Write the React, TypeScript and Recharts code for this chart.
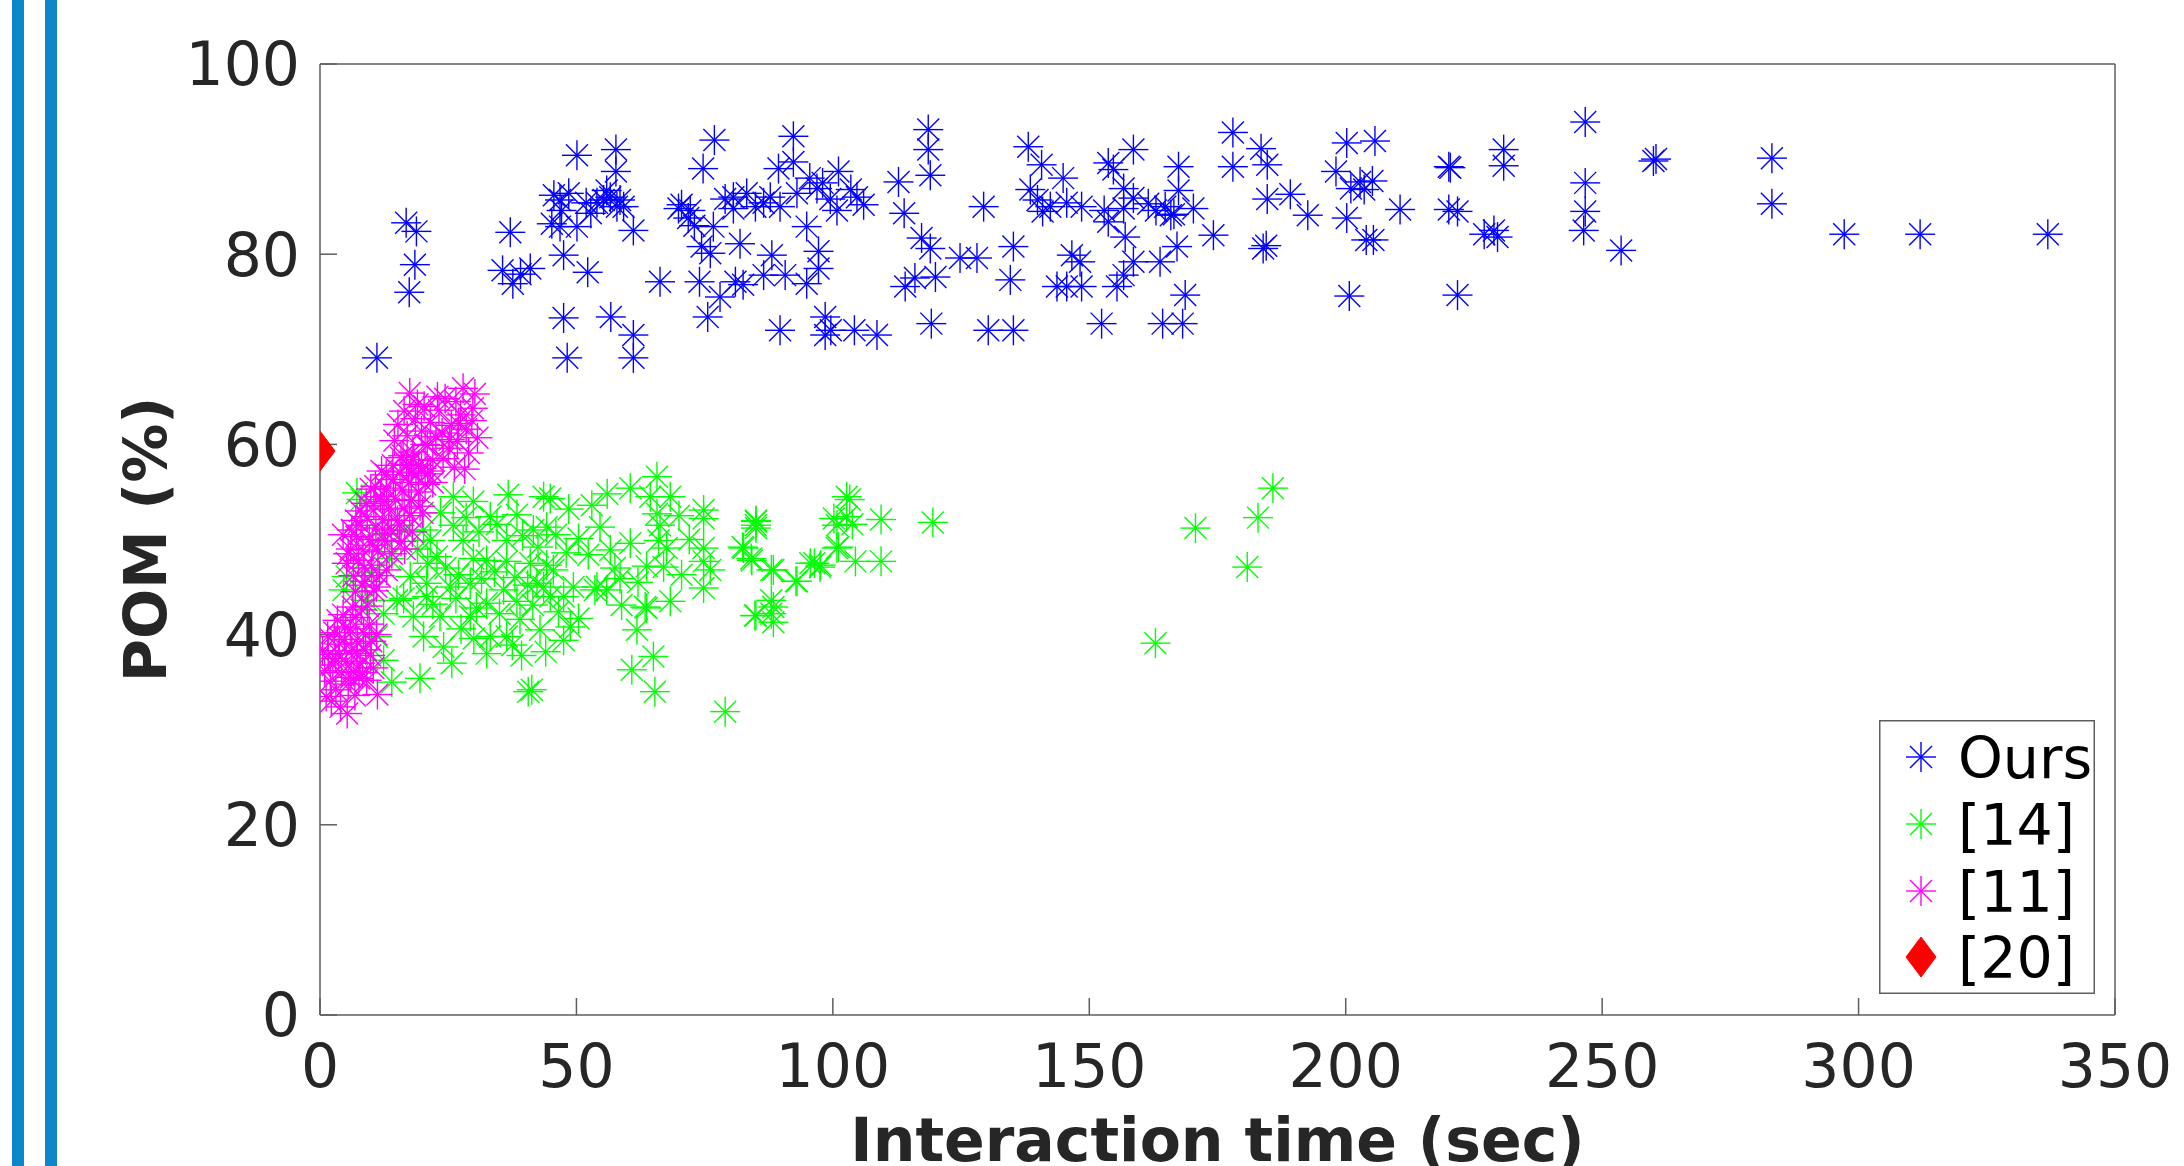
import React from 'react';
import { ScatterChart, Scatter, XAxis, YAxis, Legend, Label } from 'recharts';

type Pt = [number, number];

const xTicks = [0, 50, 100, 150, 200, 250, 300, 350];
const yTicks = [0, 20, 40, 60, 80, 100];
const seriesNames = ['Ours', '[14]', '[11]', '[20]'];
const seriesColors = ['#0000ff', '#00ff00', '#ff00ff', '#ff0000'];

// Ours: interaction time (sec), POM (%)
const oursPoints: Pt[] = [
  [11.1, 69.1], [16.8, 83.3], [18.8, 82.4], [18.5, 78.9], [17.4, 76.0], [37.1, 82.3], [35.6, 78.3], [37.6, 76.9],
  [39.1, 77.9], [41.0, 78.5], [50.1, 90.4], [57.7, 91.0], [57.7, 88.7], [46.8, 85.7], [47.1, 84.6], [45.2, 83.2],
  [46.8, 82.9], [50.1, 82.9], [47.5, 79.9], [52.2, 78.1], [47.5, 73.3], [48.2, 69.1], [56.7, 73.4], [61.1, 71.5],
  [61.1, 69.1], [54.0, 85.4], [56.6, 86.0], [57.9, 85.0], [59.2, 85.0], [61.1, 82.5], [55.3, 85.7], [66.3, 77.1],
  [76.9, 92.0], [74.7, 89.0], [72.2, 84.6], [71.8, 83.8], [69.9, 84.8], [76.7, 82.9], [74.4, 80.8], [76.1, 80.1],
  [74.0, 77.1], [78.0, 75.5], [75.6, 73.4], [81.9, 81.1], [80.6, 86.0], [83.2, 86.4], [80.6, 84.8], [86.5, 85.4],
  [89.7, 85.0], [87.8, 86.0], [89.4, 89.0], [92.3, 92.4], [92.3, 89.7], [94.9, 82.9], [97.2, 80.3], [97.2, 78.5],
  [94.9, 76.9], [88.1, 79.9], [86.5, 77.8], [90.7, 77.8], [81.0, 77.1], [82.5, 76.8], [89.7, 72.0], [98.5, 73.4],
  [98.5, 71.5], [99.6, 72.0], [96.9, 86.9], [101.1, 88.7], [100.8, 84.6], [95.5, 88.0],
  [48.5, 86.4], [51.9, 85.4], [55.9, 86.7], [58.5, 85.7], [52.8, 84.3], [45.6, 86.2], [70.5, 85.2], [73.0, 83.0],
  [98.0, 87.5], [99.5, 85.8], [93.0, 86.4], [84.9, 85.0], [79.0, 85.8],
  [104.7, 86.0], [112.8, 87.6], [118.6, 93.1], [118.6, 91.0], [119.0, 88.3], [113.9, 84.3], [117.3, 81.7], [119.0, 80.6],
  [120.0, 77.6], [116.0, 77.5], [114.1, 76.6], [124.8, 79.6], [128.1, 79.6], [129.4, 85.0], [135.2, 80.8], [134.6, 77.3],
  [108.6, 71.5], [104.2, 72.0], [119.2, 72.7], [130.3, 72.0], [135.2, 72.0], [138.1, 91.3], [140.7, 89.4], [144.9, 88.0],
  [138.5, 86.8], [139.9, 85.7], [140.9, 84.5], [145.6, 85.4], [148.5, 85.0], [146.6, 79.9], [148.2, 79.2], [143.7, 76.6],
  [145.6, 76.6], [148.5, 76.6], [152.4, 72.7], [153.7, 89.6], [154.7, 88.9], [158.6, 91.0], [156.7, 86.9], [158.6, 85.9],
  [156.7, 84.8], [153.7, 83.4], [157.0, 81.8], [155.4, 76.6], [156.7, 77.8], [158.6, 79.2], [163.8, 79.2], [167.1, 80.8],
  [164.8, 85.0], [167.4, 89.2], [167.4, 86.7], [170.3, 84.8], [165.9, 84.1], [168.7, 75.7], [164.3, 72.7], [168.2, 72.7],
  [174.2, 82.0], [178.0, 92.8], [178.0, 89.2], [183.5, 91.1], [184.7, 89.4], [184.7, 85.8], [189.2, 86.3], [192.6, 84.1],
  [183.9, 80.6], [184.5, 80.9], [200.2, 91.7], [198.1, 88.7], [202.8, 87.6], [201.0, 86.9], [203.6, 86.8], [200.2, 83.8],
  [200.7, 75.6], [204.0, 81.5], [142.4, 85.0], [106.0, 85.2], [103.5, 86.8], [161.5, 85.3], [166.5, 84.2], [152.9, 84.6],
  [163.0, 84.6],
  [210.6, 84.7], [220.1, 89.2], [220.4, 89.1], [220.1, 84.7], [221.8, 84.5], [221.8, 75.7], [230.8, 91.0], [230.8, 89.3],
  [227.0, 82.1], [228.9, 82.5], [229.6, 81.8], [246.7, 93.9], [246.7, 87.5], [246.7, 84.5], [246.4, 82.5], [253.7, 80.4],
  [260.0, 89.8], [260.5, 90.0], [283.1, 90.1], [283.1, 85.3], [297.2, 82.1], [312.0, 82.1], [336.9, 82.1], [205.7, 91.9],
  [205.2, 87.7], [205.4, 81.5],
];

// [14]
const ref14Points: Pt[] = [
  [65.7, 56.6], [60.5, 55.4], [64.4, 54.5], [68.3, 54.5], [74.8, 53.1], [74.8, 52.2], [85.0, 51.5], [85.0, 52.0],
  [65.7, 52.7], [66.3, 51.5], [66.0, 49.9], [67.6, 49.1], [63.7, 47.2], [67.0, 47.1], [74.8, 49.1], [74.8, 47.7],
  [76.1, 46.8], [74.8, 44.9], [68.3, 43.5], [63.7, 42.8], [61.8, 40.5], [65.0, 37.7], [60.8, 36.3], [65.3, 34.0],
  [79.0, 31.9], [82.6, 49.1], [84.2, 47.8], [88.4, 46.8], [93.0, 45.6], [84.8, 42.0], [88.4, 42.9], [88.4, 41.3],
  [95.6, 47.5], [97.5, 47.1], [100.8, 51.5], [100.8, 49.1], [102.7, 52.4], [102.7, 54.5], [53.0, 53.6], [54.6, 51.3],
  [50.4, 50.1], [52.3, 48.4], [56.6, 48.9], [60.5, 49.6], [58.5, 45.9], [58.8, 43.1], [63.4, 42.9], [53.6, 44.7],
  [50.4, 41.7], [44.9, 54.3], [43.6, 54.5], [36.7, 54.7], [29.9, 54.0], [33.2, 52.4], [38.4, 52.6], [44.2, 51.3],
  [41.6, 51.0], [36.4, 49.9], [27.9, 49.9], [21.5, 49.9], [20.2, 51.0], [22.8, 48.2], [29.9, 48.0], [32.5, 47.8],
  [36.4, 47.7], [41.0, 47.5], [44.2, 47.3], [20.8, 45.4], [20.8, 44.0], [25.4, 45.0], [29.3, 45.4], [35.8, 44.7],
  [43.6, 45.0], [44.9, 44.0], [38.4, 43.5], [32.5, 43.3], [29.3, 41.9], [23.4, 41.9], [20.2, 39.8], [24.1, 38.7],
  [33.2, 39.8], [36.4, 39.8], [42.9, 40.5], [47.5, 39.4], [48.8, 40.8], [39.3, 37.8], [32.5, 38.0], [25.7, 37.0],
  [19.5, 35.4], [14.0, 35.0], [41.3, 34.2], [40.6, 34.0], [17.6, 46.1], [15.0, 43.6], [12.4, 42.2], [11.1, 39.8],
  [12.4, 37.3], [9.1, 43.6], [8.1, 54.2], [7.2, 54.9], [5.2, 46.1], [4.6, 44.7], [16.3, 43.8], [18.2, 41.9],
  [47.5, 44.0], [49.4, 45.0], [54.0, 45.0], [55.9, 44.7], [42.3, 45.4],
  [185.8, 55.4], [182.9, 52.3], [170.7, 51.2], [180.8, 47.1], [162.9, 39.1], [119.5, 51.8], [109.4, 52.1], [109.4, 47.7],
  [104.4, 47.7], [103.3, 54.2], [100.2, 52.2], [103.8, 51.6], [101.1, 49.2], [97.6, 47.3], [96.4, 47.5], [92.8, 45.6],
  [88.0, 46.8], [88.0, 43.6], [88.0, 42.2], [85.0, 42.0], [84.1, 48.0], [82.4, 49.2], [85.0, 51.9], [85.0, 51.2],
  [23.5, 52.8], [26.0, 51.5], [28.5, 52.3], [31.0, 50.8], [34.5, 51.6], [39.5, 50.4], [42.5, 49.2], [46.0, 50.5],
  [48.0, 48.6], [24.5, 47.0], [27.0, 46.3], [31.5, 45.9], [34.0, 46.6], [38.0, 46.0], [40.5, 45.2], [45.5, 46.8],
  [22.0, 43.2], [26.5, 43.8], [30.5, 42.8], [35.0, 42.2], [39.0, 41.6], [41.5, 43.1], [46.5, 42.4], [27.5, 40.6],
  [30.0, 39.6], [37.5, 38.9], [44.0, 38.2], [21.0, 47.5], [19.0, 49.0], [13.5, 48.0], [10.0, 46.5], [16.5, 51.0],
  [12.0, 50.5], [57.5, 47.0], [62.0, 45.5], [70.5, 46.3], [72.0, 50.0], [70.0, 52.5], [56.0, 54.8], [48.5, 53.2],
  [26.0, 54.5],
];

// [11]
const ref11Points: Pt[] = [
  [1.2, 33.5], [2.0, 35.1], [2.5, 36.8], [3.1, 34.2], [3.6, 38.0], [4.0, 32.4], [4.2, 36.0], [4.8, 39.5],
  [5.1, 37.2], [5.5, 34.8], [5.9, 40.6], [6.2, 38.3], [6.6, 36.1], [7.0, 41.8], [7.3, 39.1], [7.8, 37.0],
  [8.1, 42.6], [8.5, 40.2], [8.9, 38.4], [9.3, 43.0], [9.6, 41.1], [10.0, 39.3], [10.4, 36.5], [2.8, 40.2],
  [1.6, 37.9], [0.9, 36.2], [3.4, 41.5], [6.8, 33.6], [5.3, 31.7], [4.5, 42.1], [7.6, 35.4], [9.1, 35.2],
  [11.2, 33.7], [2.2, 33.0], [3.8, 39.0], [6.0, 35.5], [8.3, 36.0], [1.5, 39.8], [6.4, 42.9], [5.0, 40.8],
  [11.0, 40.0], [0.5, 38.3], [3.0, 37.5], [7.2, 38.0], [9.8, 37.8],
  [5.2, 47.5], [6.0, 49.0], [6.5, 46.2], [7.1, 50.3], [7.5, 47.8], [8.0, 51.5], [8.4, 48.9], [8.8, 45.6],
  [9.2, 52.4], [9.6, 50.0], [10.1, 47.3], [10.5, 53.6], [10.9, 51.2], [11.3, 48.7], [11.8, 54.5], [12.2, 52.1],
  [12.6, 49.9], [13.0, 55.4], [13.4, 53.2], [13.9, 51.0], [14.3, 56.3], [14.7, 54.2], [15.1, 52.0], [15.6, 57.1],
  [16.0, 55.2], [16.4, 53.3], [16.9, 57.9], [17.3, 56.0], [17.8, 54.1], [18.3, 58.4], [18.7, 56.7], [19.2, 55.0],
  [19.8, 57.5], [7.8, 53.0], [9.9, 55.3], [12.0, 57.2], [6.9, 44.5], [11.6, 46.2], [14.0, 48.5], [4.5, 50.5],
  [10.3, 49.4], [13.2, 50.6], [15.8, 49.8], [8.6, 47.0], [12.9, 56.8],
  [15.5, 51.5], [17.5, 52.5], [19.5, 53.5], [20.5, 55.8], [21.5, 57.2], [18.0, 50.8], [16.5, 49.0], [13.0, 46.8],
  [11.0, 45.0], [7.0, 52.0], [6.2, 51.0], [5.5, 48.5], [9.0, 53.8], [10.8, 55.6], [12.5, 54.0], [14.2, 57.8],
  [16.2, 58.8], [20.0, 52.8], [22.0, 56.0], [8.2, 45.2], [10.5, 44.6],
  [14.5, 60.4], [15.2, 62.1], [15.8, 58.6], [16.4, 63.5], [17.0, 60.9], [17.5, 65.4], [18.1, 59.2], [18.6, 62.7],
  [19.2, 57.8], [19.8, 61.4], [20.3, 64.0], [20.9, 59.9], [21.5, 62.3], [22.0, 58.3], [22.6, 60.8], [23.2, 63.6],
  [23.8, 61.2], [24.4, 64.8], [25.0, 59.6], [25.6, 62.0], [26.2, 57.6], [26.8, 60.3], [27.4, 63.1], [27.9, 65.9],
  [28.5, 61.6], [29.0, 59.1], [29.6, 62.5], [30.2, 65.3], [30.7, 60.7], [28.2, 57.4], [21.0, 56.9], [17.8, 57.0],
  [24.0, 58.5], [26.5, 64.5], [19.0, 64.2], [22.9, 65.0], [27.0, 62.2], [25.3, 60.5], [20.5, 60.0], [29.8, 63.8],
];

// [20]
const ref20Points: Pt[] = [[0, 59.3]];

const toRows = (pts: Pt[]) => pts.map(([x, y]) => ({ x, y }));

const FONT = "'DejaVu Sans', 'Liberation Sans', sans-serif";
const AXIS = '#5e5e5e';
const TEXT = '#262626';
const ARM = 15;
const DIAG = 11;

function Asterisk(props: any) {
  const { cx, cy, color } = props;
  if (cx == null || cy == null) return null;
  return (
    <g stroke={color} strokeWidth={1.4} fill="none">
      <line x1={cx - ARM} y1={cy} x2={cx + ARM} y2={cy} />
      <line x1={cx} y1={cy - ARM} x2={cx} y2={cy + ARM} />
      <line x1={cx - DIAG} y1={cy - DIAG} x2={cx + DIAG} y2={cy + DIAG} />
      <line x1={cx - DIAG} y1={cy + DIAG} x2={cx + DIAG} y2={cy - DIAG} />
    </g>
  );
}

function Diamond(props: any) {
  const { cx, cy, color } = props;
  if (cx == null || cy == null) return null;
  return <polygon points={`${cx},${cy - 20} ${cx + 15},${cy} ${cx},${cy + 20} ${cx - 15},${cy}`} fill={color} stroke={color} strokeWidth={1} />;
}

const Hidden = () => null;

function LegendBox() {
  const rowY = [37, 104, 171, 237];
  return (
    <svg width={216} height={274} style={{ display: 'block' }}>
      <rect x={0.75} y={0.75} width={214.5} height={272.5} fill="#ffffff" stroke={AXIS} strokeWidth={1.5} />
      {seriesNames.map((name, i) => (
        <g key={name}>
          {i === 3 ? (
            <Diamond cx={42} cy={rowY[i]} color={seriesColors[i]} />
          ) : (
            <Asterisk cx={42} cy={rowY[i]} color={seriesColors[i]} />
          )}
          <text x={79} y={rowY[i] + 21} fontFamily={FONT} fontSize={57} fill="#000000">
            {name}
          </text>
        </g>
      ))}
    </svg>
  );
}

const XTitle = (props: any) => {
  const vb = props.viewBox || {};
  return (
    <text x={vb.x + vb.width / 2} y={vb.y + 146} textAnchor="middle" fontFamily={FONT} fontWeight="bold" fontSize={60} fill={TEXT}>
      Interaction time (sec)
    </text>
  );
};

const YTitle = (props: any) => {
  const vb = props.viewBox || {};
  const x = vb.x + vb.width - 154;
  const y = vb.y + vb.height / 2;
  return (
    <text x={x} y={y} transform={`rotate(-90, ${x}, ${y})`} textAnchor="middle" fontFamily={FONT} fontWeight="bold" fontSize={59} fill={TEXT}>
      POM (%)
    </text>
  );
};

const tickStyle = { fill: TEXT, fontSize: 60, fontFamily: FONT };

export default function App() {
  return (
    <div style={{ position: 'absolute', left: 0, top: 0, width: 2184, height: 1166, background: '#ffffff', overflow: 'hidden' }}>
      <div style={{ position: 'absolute', left: 12, top: 0, width: 12, height: 1166, background: '#0b87c9' }} />
      <div style={{ position: 'absolute', left: 45, top: 0, width: 12, height: 1166, background: '#0b87c9' }} />
      <div style={{ position: 'absolute', left: 0, top: 0 }}>
        <ScatterChart width={2184} height={1166} margin={{ top: 63, right: 68, bottom: 0, left: 0 }}>
          <XAxis
            xAxisId="b"
            type="number"
            dataKey="x"
            domain={[0, 350]}
            ticks={xTicks}
            interval={0}
            allowDataOverflow
            orientation="bottom"
            height={151}
            tickSize={-17}
            tickMargin={46}
            stroke={AXIS}
            strokeWidth={1.5}
            tick={tickStyle}
          >
            <Label content={XTitle} />
          </XAxis>
          <XAxis
            xAxisId="t"
            type="number"
            dataKey="x"
            domain={[0, 350]}
            ticks={xTicks}
            interval={0}
            allowDataOverflow
            orientation="top"
            height={1}
            tickSize={-17}
            tick={false}
            stroke={AXIS}
            strokeWidth={1.5}
          />
          <YAxis
            yAxisId="l"
            type="number"
            dataKey="y"
            domain={[0, 100]}
            ticks={yTicks}
            interval={0}
            allowDataOverflow
            orientation="left"
            width={320}
            tickSize={-17}
            tickMargin={37}
            stroke={AXIS}
            strokeWidth={1.5}
            tick={tickStyle}
          >
            <Label content={YTitle} />
          </YAxis>
          <YAxis
            yAxisId="r"
            type="number"
            dataKey="y"
            domain={[0, 100]}
            ticks={yTicks}
            interval={0}
            allowDataOverflow
            orientation="right"
            width={1}
            tickSize={-17}
            tick={false}
            stroke={AXIS}
            strokeWidth={1.5}
          />
          <Legend
            layout="horizontal"
            align="center"
            verticalAlign="middle"
            content={() => <LegendBox />}
            wrapperStyle={{ left: 1879, top: 720, width: 216, height: 274 }}
          />
          <Scatter name="frame" xAxisId="t" yAxisId="r" data={toRows(ref20Points)} isAnimationActive={false}
            legendType="none" shape={Hidden} />
          <Scatter name={seriesNames[0]} xAxisId="b" yAxisId="l" data={toRows(oursPoints)} isAnimationActive={false}
            shape={(p: any) => <Asterisk {...p} color={seriesColors[0]} />} />
          <Scatter name={seriesNames[1]} xAxisId="b" yAxisId="l" data={toRows(ref14Points)} isAnimationActive={false}
            shape={(p: any) => <Asterisk {...p} color={seriesColors[1]} />} />
          <Scatter name={seriesNames[2]} xAxisId="b" yAxisId="l" data={toRows(ref11Points)} isAnimationActive={false}
            shape={(p: any) => <Asterisk {...p} color={seriesColors[2]} />} />
          <Scatter name={seriesNames[3]} xAxisId="b" yAxisId="l" data={toRows(ref20Points)} isAnimationActive={false}
            shape={(p: any) => <Diamond {...p} color={seriesColors[3]} />} />
        </ScatterChart>
      </div>
    </div>
  );
}
